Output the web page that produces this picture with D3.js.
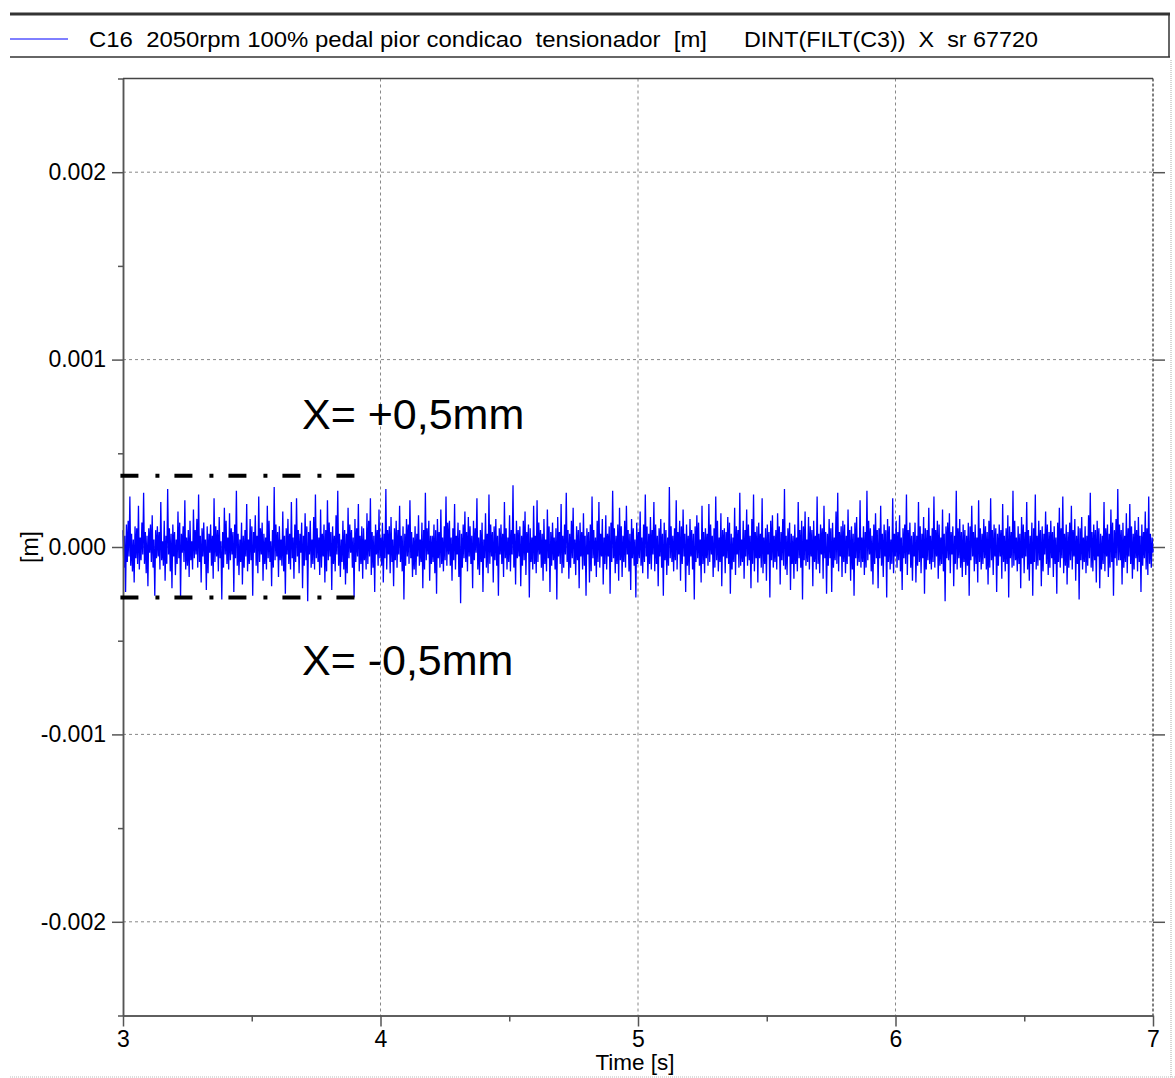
<!DOCTYPE html>
<html>
<head>
<meta charset="utf-8">
<script src="https://cdn.jsdelivr.net/npm/d3@7"></script>
<style>
  body { margin: 0; background: #fff; }
  text { font-family: "Liberation Sans", Arial, sans-serif; fill: #000; }
</style>
</head>
<body>
<svg id="chart"></svg>
<script>
const W = 1175;
const H = 1078;

// series info
const seriesName = 'C16  2050rpm 100% pedal pior condicao  tensionador  [m]';
const seriesExpr = 'DINT(FILT(C3))  X  sr 67720';
const tStart = 3;
const tEnd = 7;

// displacement samples, in units of 1e-5 m (0.01 mm)
const disp = [
  9,-11,6,-24,12,-8,14,-5,27,-10,7,-13,4,-19,11,-6,10,-9,22,-12,
  5,-7,13,-4,29,-9,8,-14,6,-21,10,-3,12,-8,17,-11,4,-26,9,-6,
  11,-5,8,-12,24,-7,3,-10,14,-18,6,-9,31,-4,10,-13,7,-22,12,-5,
  8,-15,4,-9,19,-6,13,-27,7,-3,11,-8,25,-12,5,-10,9,-16,14,-7,
  3,-12,20,-6,9,-4,15,-11,28,-8,6,-19,10,-5,13,-9,4,-23,11,-14,
  7,-3,12,-10,6,-17,26,-8,11,-5,9,-13,16,-6,3,-28,8,-11,21,-4,
  14,-9,5,-12,18,-7,10,-4,8,-24,12,-6,30,-10,7,-15,4,-8,13,-20,
  6,-11,9,-5,23,-13,4,-9,15,-7,11,-26,8,-3,17,-10,6,-14,27,-8,
  10,-4,13,-18,7,-9,5,-12,22,-6,14,-8,3,-21,9,-11,32,-7,12,-5,
  8,-16,11,-7,4,-10,19,-13,6,-25,10,-4,15,-9,7,-12,24,-6,5,-17,
  12,-8,26,-5,9,-14,7,-3,13,-22,6,-10,18,-7,11,-29,8,-4,14,-11,
  4,-9,16,-12,28,-6,10,-8,5,-15,20,-11,7,-5,12,-19,9,-13,25,-7,
  13,-5,8,-23,11,-9,6,-13,17,-4,30,-10,7,-16,4,-8,14,-12,9,-20,
  7,-14,21,-6,12,-3,9,-11,5,-27,15,-8,10,-5,23,-13,6,-9,11,-17,
  10,-7,4,-12,18,-9,14,-5,26,-15,8,-11,6,-24,12,-4,9,-10,20,-6,
  5,-10,13,-19,7,-6,31,-12,9,-4,11,-14,16,-8,4,-21,10,-7,14,-11,
  9,-4,22,-8,6,-13,11,-28,7,-10,15,-5,12,-9,25,-6,8,-16,5,-12,
  11,-15,7,-5,17,-10,4,-8,13,-22,9,-12,29,-7,10,-4,14,-18,6,-9,
  6,-8,12,-14,9,-25,15,-6,8,-11,20,-9,5,-13,11,-7,27,-10,13,-4,
  14,-10,5,-18,10,-7,23,-12,6,-4,13,-16,9,-30,7,-11,12,-6,19,-8,
  8,-13,16,-5,11,-9,6,-22,14,-7,10,-3,26,-12,5,-15,9,-8,13,-24,
  4,-6,18,-11,7,-14,28,-9,12,-5,8,-19,11,-7,15,-10,6,-26,10,-4,
  12,-9,7,-16,24,-6,10,-12,5,-8,17,-13,9,-4,33,-11,7,-20,14,-6,
  9,-5,11,-21,6,-10,14,-7,19,-15,8,-3,12,-27,10,-8,5,-12,22,-9,
  6,-14,25,-8,13,-4,9,-11,7,-18,15,-9,4,-13,20,-6,11,-24,8,-10,
  13,-7,5,-12,10,-28,16,-5,8,-9,23,-14,6,-11,12,-4,29,-8,9,-17,
  7,-11,14,-6,21,-9,4,-15,11,-7,9,-22,13,-5,8,-12,18,-10,6,-26,
  10,-4,8,-19,12,-13,27,-6,9,-10,5,-16,14,-8,24,-11,7,-5,15,-20,
  5,-9,17,-12,7,-5,11,-25,13,-8,30,-6,10,-14,6,-9,12,-18,21,-7,
  11,-16,6,-8,14,-11,22,-4,9,-13,7,-23,15,-6,10,-10,4,-27,13,-9,
  8,-6,19,-10,5,-14,12,-8,28,-5,11,-17,7,-9,16,-12,9,-4,24,-13,
  12,-9,6,-21,10,-5,15,-11,7,-26,13,-7,9,-15,5,-10,32,-6,11,-8,
  6,-13,10,-7,25,-12,8,-4,14,-18,11,-9,20,-5,7,-24,12,-10,6,-15,
  15,-5,9,-12,7,-28,11,-8,17,-6,13,-10,4,-19,22,-9,8,-14,10,-6,
  7,-10,23,-8,12,-4,6,-16,10,-11,27,-7,14,-13,5,-8,18,-21,9,-5,
  10,-14,8,-6,16,-9,13,-25,7,-12,5,-8,21,-15,11,-4,9,-11,29,-10,
  4,-8,14,-17,9,-5,20,-10,12,-7,6,-22,15,-9,28,-13,8,-6,11,-19,
  13,-6,7,-11,26,-14,5,-9,10,-18,12,-4,8,-27,14,-7,17,-11,6,-8,
  9,-12,18,-5,11,-20,8,-7,15,-10,31,-12,6,-15,10,-5,13,-23,7,-9,
  6,-17,12,-9,5,-13,24,-6,9,-11,14,-28,11,-7,19,-10,4,-8,16,-12,
  11,-5,9,-21,14,-8,6,-12,27,-9,7,-14,12,-4,10,-17,22,-6,8,-25,
  7,-10,15,-6,10,-24,13,-11,5,-7,19,-9,29,-13,8,-5,11,-16,14,-8,
  12,-14,6,-9,20,-5,9,-18,11,-12,7,-26,13,-6,16,-10,5,-8,25,-11,
  5,-8,11,-15,8,-11,30,-7,14,-4,10,-13,6,-20,12,-9,18,-6,9,-22,
  10,-6,22,-10,7,-16,12,-5,9,-27,15,-8,11,-12,4,-9,26,-14,7,-5,
  14,-11,8,-7,17,-13,5,-23,10,-6,12,-9,28,-15,9,-4,13,-11,6,-18,
  8,-5,13,-19,6,-10,24,-8,11,-14,7,-6,16,-25,10,-12,9,-7,21,-9,
  6,-12,10,-8,27,-11,9,-5,14,-17,12,-10,5,-9,20,-13,7,-29,11,-6,
  13,-7,18,-14,8,-4,11,-21,6,-9,30,-12,10,-6,15,-11,8,-16,12,-8,
  9,-15,6,-10,13,-26,11,-7,22,-5,8,-13,12,-9,5,-19,25,-8,10,-12,
  7,-9,15,-6,11,-12,8,-20,14,-11,26,-7,9,-15,12,-5,10,-24,7,-10,
  12,-5,9,-17,23,-8,6,-13,10,-9,17,-27,11,-6,8,-11,30,-10,14,-7,
  5,-13,11,-9,7,-22,16,-6,12,-14,8,-5,24,-12,9,-18,6,-9,13,-26,
  10,-8,28,-12,6,-10,14,-7,9,-21,11,-13,7,-4,19,-9,12,-15,8,-11,
  14,-6,8,-16,11,-9,5,-25,13,-8,21,-11,10,-6,27,-14,7,-10,12,-20,
  8,-11,13,-7,22,-12,9,-5,15,-18,6,-9,11,-28,10,-7,16,-12,5,-8,
  11,-14,6,-10,17,-6,29,-11,8,-13,12,-7,9,-19,14,-5,10,-22,7,-12,
  6,-9,24,-13,10,-5,12,-16,7,-11,20,-8,13,-26,9,-6,15,-10,31,-7,
  12,-7,9,-20,13,-11,6,-8,18,-14,10,-5,23,-9,11,-17,7,-12,14,-6,
  9,-13,16,-8,6,-24,12,-10,8,-6,19,-12,10,-15,27,-9,7,-11,5,-3
];

// axis ticks
const xTicks = [3, 4, 5, 6, 7];
const xMinor = [3.5, 4.5, 5.5, 6.5];
const yTicks = [-0.002, -0.001, 0, 0.001, 0.002];
const yMinor = [-0.0025, -0.0015, -0.0005, 0.0005, 0.0015, 0.0025];

// hand drawn limit lines and their labels
const limits = [0.00038, -0.00027];
const limitLabels = ['X= +0,5mm', 'X= -0,5mm'];

const margin = { top: 78.5, right: 22, bottom: 62.5, left: 123 };

const svg = d3
  .select('#chart')
  .attr('width', W)
  .attr('height', H);

const x = d3
  .scaleLinear()
  .domain([tStart, tEnd])
  .range([margin.left, W - margin.right]);
const y = d3
  .scaleLinear()
  .domain([-0.0025, 0.0025])
  .range([H - margin.bottom, margin.top]);

const dt = (tEnd - tStart) / (disp.length - 1);
const data = disp.map((v, i) => ({ t: tStart + i * dt, v: v * 1e-5 }));

//Window edges
svg
  .append('line')
  .attr('x1', 1171).attr('x2', 1171)
  .attr('y1', 60).attr('y2', H)
  .attr('stroke', '#aaa')
  .attr('stroke-dasharray', '1,1');
svg
  .append('line')
  .attr('x1', 10).attr('x2', W)
  .attr('y1', 1077).attr('y2', 1077)
  .attr('stroke', '#bbb')
  .attr('stroke-dasharray', '1,1');

//Legend box
const legend = svg.append('g');
legend
  .append('line')
  .attr('x1', 10).attr('x2', 1170)
  .attr('y1', 14).attr('y2', 14)
  .attr('stroke', '#333')
  .attr('stroke-width', 3);
legend
  .append('line')
  .attr('x1', 10).attr('x2', 1170)
  .attr('y1', 57).attr('y2', 57)
  .attr('stroke', '#333')
  .attr('stroke-width', 1.5);
legend
  .append('line')
  .attr('x1', 1169).attr('x2', 1169)
  .attr('y1', 14).attr('y2', 57)
  .attr('stroke', '#333')
  .attr('stroke-width', 1.5);
legend
  .append('line')
  .attr('x1', 10).attr('x2', 68)
  .attr('y1', 39).attr('y2', 39)
  .attr('stroke', '#0000ff')
  .attr('stroke-width', 1);
legend
  .append('text')
  .attr('x', 89)
  .attr('y', 47)
  .attr('textLength', 618)
  .attr('lengthAdjust', 'spacingAndGlyphs')
  .style('font-size', '22px')
  .style('white-space', 'pre')
  .text(seriesName);
legend
  .append('text')
  .attr('x', 744)
  .attr('y', 47)
  .attr('textLength', 294)
  .attr('lengthAdjust', 'spacingAndGlyphs')
  .style('font-size', '22px')
  .style('white-space', 'pre')
  .text(seriesExpr);

//Grid
const grid = svg.append('g');
grid
  .selectAll('.gx')
  .data(xTicks.slice(1, -1))
  .enter()
  .append('line')
  .attr('x1', d => x(d)).attr('x2', d => x(d))
  .attr('y1', y.range()[1]).attr('y2', y.range()[0])
  .attr('stroke', '#888')
  .attr('stroke-dasharray', '3,3');
grid
  .selectAll('.gy')
  .data(yTicks)
  .enter()
  .append('line')
  .attr('x1', x.range()[0]).attr('x2', x.range()[1])
  .attr('y1', d => y(d)).attr('y2', d => y(d))
  .attr('stroke', d => (d === 0 ? '#555' : '#888'))
  .attr('stroke-dasharray', d => (d === 0 ? null : '3,3'));

//Frame: right border dashed, top solid
svg
  .append('line')
  .attr('x1', x.range()[1]).attr('x2', x.range()[1])
  .attr('y1', y.range()[1]).attr('y2', y.range()[0])
  .attr('stroke', '#555')
  .attr('stroke-width', 1.5)
  .attr('stroke-dasharray', '3,2');
svg
  .append('line')
  .attr('x1', x.range()[0]).attr('x2', x.range()[1])
  .attr('y1', y.range()[1]).attr('y2', y.range()[1])
  .attr('stroke', '#444')
  .attr('stroke-width', 1.5);

//Signal
const line = d3
  .line()
  .x(d => x(d.t))
  .y(d => y(d.v));
svg
  .append('path')
  .datum(data)
  .attr('d', line)
  .attr('fill', 'none')
  .attr('stroke', '#0000ff')
  .attr('stroke-width', 1.3);

//Axes
function styleAxis(g) {
  g.select('.domain').attr('stroke', '#555').attr('stroke-width', 1.5);
  g.selectAll('.tick line').attr('stroke', '#555').attr('stroke-width', 1.5);
  g.selectAll('.tick text')
    .style('font-size', '23px')
    .style('font-family', '"Liberation Sans", Arial, sans-serif')
    .attr('fill', '#000');
}

svg
  .append('g')
  .attr('transform', 'translate(0,' + y.range()[0] + ')')
  .call(d3.axisBottom(x).tickValues(xMinor).tickSize(6).tickSizeOuter(0).tickFormat(''))
  .call(styleAxis);
svg
  .append('g')
  .attr('transform', 'translate(0,' + y.range()[0] + ')')
  .call(d3.axisBottom(x).tickValues(xTicks).tickSize(11).tickPadding(4).tickSizeOuter(0).tickFormat(d3.format('d')))
  .call(styleAxis);

svg
  .append('g')
  .attr('transform', 'translate(' + x.range()[0] + ',0)')
  .call(d3.axisLeft(y).tickValues(yMinor).tickSize(5).tickSizeOuter(0).tickFormat(''))
  .call(styleAxis);
svg
  .append('g')
  .attr('transform', 'translate(' + x.range()[0] + ',0)')
  .call(d3.axisLeft(y).tickValues(yTicks).tickSize(11).tickPadding(6).tickSizeOuter(0).tickFormat(d => d.toFixed(3)))
  .call(styleAxis);

const rightAxis = svg
  .append('g')
  .attr('transform', 'translate(' + x.range()[1] + ',0)')
  .call(d3.axisRight(y).tickValues(yTicks).tickSize(12).tickSizeOuter(0).tickFormat(''))
  .call(styleAxis);
rightAxis.select('.domain').remove();

svg
  .append('text')
  .attr('transform', 'translate(38,' + y(0) + ') rotate(-90)')
  .attr('text-anchor', 'middle')
  .style('font-size', '23px')
  .text('[m]');

svg
  .append('text')
  .attr('x', x(5) - 3)
  .attr('y', 1070)
  .attr('text-anchor', 'middle')
  .style('font-size', '22.5px')
  .text('Time [s]');

//Limit lines drawn over the trace
svg
  .selectAll('.limit')
  .data(limits)
  .enter()
  .append('line')
  .attr('x1', x(2.99))
  .attr('x2', x(3.91))
  .attr('y1', d => y(d))
  .attr('y2', d => y(d))
  .attr('stroke', '#000')
  .attr('stroke-width', 4)
  .attr('stroke-dasharray', '18,17,4,15');

svg
  .selectAll('.limit-label')
  .data(limitLabels)
  .enter()
  .append('text')
  .attr('x', x(3.695))
  .attr('y', (d, i) => (i === 0 ? y(limits[0]) - 47 : y(limits[1]) + 77))
  .style('font-size', '43px')
  .text(d => d);
</script>
</body>
</html>
